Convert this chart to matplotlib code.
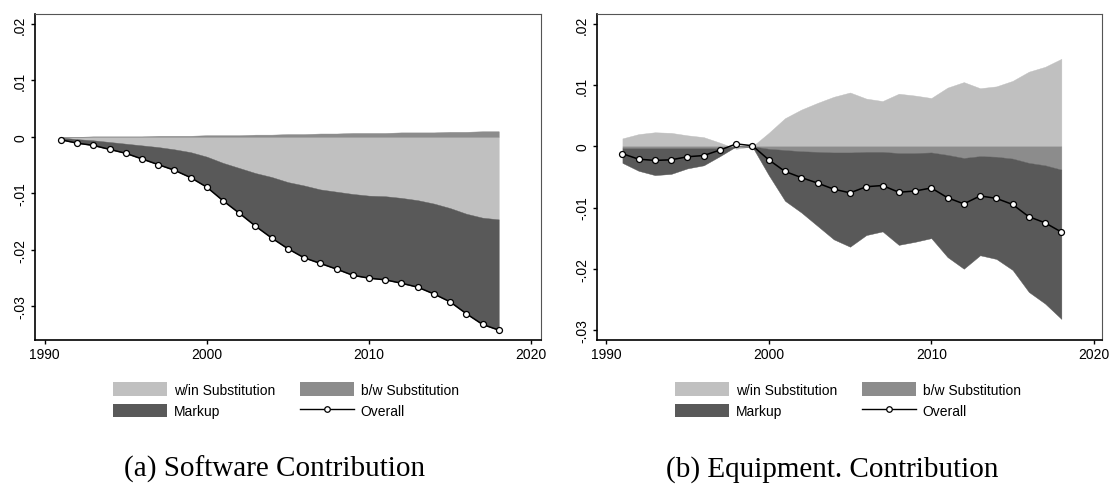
import numpy as np
import matplotlib
matplotlib.use('Agg')
import matplotlib.pyplot as plt
from matplotlib.patches import Patch
from matplotlib.lines import Line2D

plt.rcParams['font.family'] = ['Liberation Sans', 'DejaVu Sans']

years = np.arange(1991, 2019)

# (a) software: contributions
sw_within = [-0.0001, -0.0004, -0.0006, -0.0009, -0.0012, -0.0015, -0.0018, -0.0022, -0.0027, -0.0035,
             -0.0046, -0.0055, -0.0064, -0.0071, -0.0080, -0.0086, -0.0093, -0.0097, -0.0101, -0.0104,
             -0.0105, -0.0108, -0.0112, -0.0118, -0.0126, -0.0136, -0.0143, -0.0146]
sw_between = [0.0000, 0.0000, 0.0001, 0.0001, 0.0001, 0.0001, 0.0002, 0.0002, 0.0002, 0.0003,
              0.0003, 0.0003, 0.0004, 0.0004, 0.0005, 0.0005, 0.0006, 0.0006, 0.0007, 0.0007,
              0.0007, 0.0008, 0.0008, 0.0008, 0.0009, 0.0009, 0.0010, 0.0010]
sw_markup = [-0.0004, -0.0007, -0.0009, -0.0013, -0.0017, -0.0024, -0.0031, -0.0037, -0.0045, -0.0054,
             -0.0067, -0.0080, -0.0094, -0.0108, -0.0118, -0.0128, -0.0131, -0.0137, -0.0144, -0.0146,
             -0.0148, -0.0151, -0.0154, -0.0160, -0.0166, -0.0177, -0.0189, -0.0196]
sw_overall = [-0.0005, -0.0011, -0.0015, -0.0022, -0.0029, -0.0039, -0.0049, -0.0059, -0.0072, -0.0089,
              -0.0113, -0.0135, -0.0158, -0.0179, -0.0198, -0.0214, -0.0224, -0.0234, -0.0245, -0.0250,
              -0.0253, -0.0259, -0.0266, -0.0278, -0.0292, -0.0313, -0.0332, -0.0342]

# (b) equipment
eq_within = [0.0013, 0.0020, 0.0023, 0.0022, 0.0018, 0.0015, 0.0006, -0.0004, 0.0000, 0.0022,
             0.0046, 0.0060, 0.0071, 0.0081, 0.0088, 0.0078, 0.0074, 0.0086, 0.0083, 0.0079,
             0.0096, 0.0105, 0.0095, 0.0098, 0.0107, 0.0122, 0.0130, 0.0143]
eq_between = [-0.0003, -0.0003, -0.0003, -0.0003, -0.0003, -0.0003, -0.0003, 0.0000, 0.0000, -0.0004,
              -0.0006, -0.0008, -0.0009, -0.0010, -0.0010, -0.0009, -0.0009, -0.0011, -0.0011, -0.0010,
              -0.0014, -0.0019, -0.0016, -0.0017, -0.0020, -0.0027, -0.0031, -0.0038]
eq_markup = [-0.0024, -0.0037, -0.0044, -0.0042, -0.0033, -0.0028, -0.0013, 0.0000, -0.0001, -0.0043,
             -0.0083, -0.0100, -0.0121, -0.0142, -0.0154, -0.0136, -0.0130, -0.0150, -0.0145, -0.0140,
             -0.0167, -0.0181, -0.0162, -0.0167, -0.0182, -0.0211, -0.0226, -0.0244]
eq_overall = [-0.0012, -0.0021, -0.0023, -0.0022, -0.0017, -0.0015, -0.0006, 0.0004, 0.0001, -0.0022,
              -0.0041, -0.0051, -0.0060, -0.0070, -0.0076, -0.0066, -0.0064, -0.0075, -0.0073, -0.0068,
              -0.0084, -0.0094, -0.0081, -0.0085, -0.0095, -0.0115, -0.0125, -0.0140]

yticks = [-0.03, -0.02, -0.01, 0, 0.01, 0.02]
ytick_labels = ['-.03', '-.02', '-.01', '0', '.01', '.02']
xticks = [1990, 2000, 2010, 2020]

c_within = '#c0c0c0'
c_between = '#8c8c8c'
c_markup = '#595959'

W, H = 1109, 485
fig = plt.figure(figsize=(W / 100, H / 100), dpi=100)


def panel(rect, within, between, markup, overall, xlim, ylim):
    ax = fig.add_axes(rect)
    pos = np.zeros(len(years))
    neg = np.zeros(len(years))
    # positive parts stack up, negative parts stack down
    for vals, col in [(within, c_within), (between, c_between), (markup, c_markup)]:
        v = np.asarray(vals)
        base = np.where(v >= 0, pos, neg)
        top = base + v
        ax.fill_between(years, base, top, facecolor=col, edgecolor=col, lw=0.3)
        pos = np.where(v >= 0, top, pos)
        neg = np.where(v < 0, top, neg)
    ax.plot(years, overall, color='black', lw=1.1, marker='o', ms=4.3,
            mfc='white', mec='black', mew=0.9, zorder=5)
    ax.set_xlim(*xlim)
    ax.set_ylim(*ylim)
    ax.set_xticks(xticks)
    ax.set_yticks(yticks)
    ax.set_yticklabels(ytick_labels, rotation=90, va='center')
    ax.tick_params(length=3, width=1, labelsize=10, pad=2)
    ax.tick_params(axis='y', pad=3)
    for s in ['left', 'bottom']:
        ax.spines[s].set_linewidth(1.2)
    for s in ['top', 'right']:
        ax.spines[s].set_linewidth(0.8)
        ax.spines[s].set_color('#555555')
    return ax


panel([35.4 / W, 1 - 340.7 / H, 506 / W, 325.7 / H],
      sw_within, sw_between, sw_markup, sw_overall,
      (1989.43, 2020.63), (-0.0359, 0.02176))
panel([597.4 / W, 1 - 340.7 / H, 504.6 / W, 325.7 / H],
      eq_within, eq_between, eq_markup, eq_overall,
      (1989.46, 2020.5), (-0.0316, 0.02163))

handles = [Patch(facecolor=c_within, label='w/in Substitution'),
           Patch(facecolor=c_markup, label='Markup'),
           Patch(facecolor=c_between, label='b/w Substitution'),
           Line2D([], [], color='black', lw=1, marker='o', ms=4, mfc='white',
                  mec='black', mew=0.9, label='Overall')]

for x0 in [113, 675]:
    fig.legend(handles=handles, ncol=2, loc='upper left',
               bbox_to_anchor=(x0 / W, 1 - 383 / H), frameon=False, fontsize=10,
               handlelength=3.9, handleheight=1.15, handletextpad=0.5,
               columnspacing=1.75, labelspacing=0.5, borderpad=0, borderaxespad=0)

fig.text(275 / W, 1 - 476.7 / H, '(a) Software Contribution', ha='center', va='baseline',
         family=['Liberation Serif', 'DejaVu Serif'], fontsize=21)
fig.text(832 / W, 1 - 476.7 / H, '(b) Equipment. Contribution', ha='center', va='baseline',
         family=['Liberation Serif', 'DejaVu Serif'], fontsize=21)

fig.savefig('out.png', dpi=100)
